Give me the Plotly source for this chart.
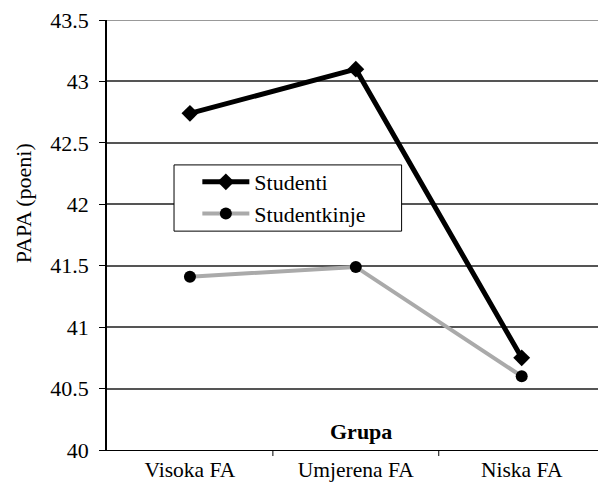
import plotly.graph_objects as go

categories = ["Visoka FA", "Umjerena FA", "Niska FA"]
studenti = [42.74, 43.10, 40.75]
studentkinje = [41.41, 41.49, 40.60]
y_ticks = [40, 40.5, 41, 41.5, 42, 42.5, 43, 43.5]
y_tick_labels = ["40", "40.5", "41", "41.5", "42", "42.5", "43", "43.5"]

SERIF = "Liberation Serif"

fig = go.Figure()
fig.add_trace(go.Scatter(
    x=[0, 1, 2], y=studenti, name="Studenti", mode="lines+markers",
    line=dict(color="black", width=5),
    marker=dict(symbol="diamond", size=13, color="black"),
))
fig.add_trace(go.Scatter(
    x=[0, 1, 2], y=studentkinje, name="Studentkinje", mode="lines+markers",
    line=dict(color="#aaaaaa", width=4),
    marker=dict(symbol="circle", size=12, color="black"),
))

fig.update_layout(
    width=598, height=488,
    margin=dict(l=107, r=0, t=20, b=38),
    plot_bgcolor="white", paper_bgcolor="white",
    font=dict(family=SERIF, size=22, color="black"),
    showlegend=True,
    legend=dict(
        x=0.184, y=0.672, xanchor="left", yanchor="top",
        bgcolor="rgba(0,0,0,0)", borderwidth=0,
        font=dict(family=SERIF, size=22), itemwidth=47, tracegroupgap=0,
    ),
    xaxis=dict(
        range=[-0.5, 2.46], tickvals=[0, 1, 2], ticktext=categories,
        tickfont=dict(family=SERIF, size=21.5),
        showgrid=False, zeroline=False,
        showline=True, linecolor="black", linewidth=1,
        ticks="", ticklen=0,
    ),
    yaxis=dict(
        range=[40, 43.5], tickvals=y_ticks, ticktext=y_tick_labels,
        tickfont=dict(family=SERIF, size=22),
        showgrid=True, gridcolor="#555555", gridwidth=1.5,
        zeroline=False, showline=True, linecolor="black", linewidth=1.5,
        ticks="outside", ticklen=6, tickcolor="black", ticklabelstandoff=6,
    ),
)

# lighter top gridline, as in the original
fig.add_shape(type="line", xref="paper", yref="y", x0=0, x1=1, y0=43.5, y1=43.5,
              line=dict(color="#999999", width=2), layer="above")

# legend frame (white box over the gridlines)
fig.add_shape(type="rect", xref="paper", yref="paper",
              x0=0.1365, x1=0.6, y0=0.509, y1=0.663,
              fillcolor="white", line=dict(color="black", width=1), layer="above")

# Excel-style category boundary ticks below the x axis
for xb in [0.5, 1.5]:
    fig.add_shape(type="line", xref="x", yref="paper", x0=xb, x1=xb, y0=0, y1=-0.014,
                  line=dict(color="black", width=1))

fig.add_annotation(
    text="PAPA (poeni)", xref="paper", yref="paper", x=-0.171, y=0.574,
    xanchor="center", yanchor="middle",
    textangle=-90, showarrow=False, font=dict(family=SERIF, size=22, color="black"),
)
fig.add_annotation(
    text="<b>Grupa</b>", xref="x", yref="y", x=1.03, y=40.15,
    showarrow=False, font=dict(family=SERIF, size=22, color="black"),
)

fig.write_html("out.html", config={"displayModeBar": False},
               post_script="document.body.style.margin='0';")
